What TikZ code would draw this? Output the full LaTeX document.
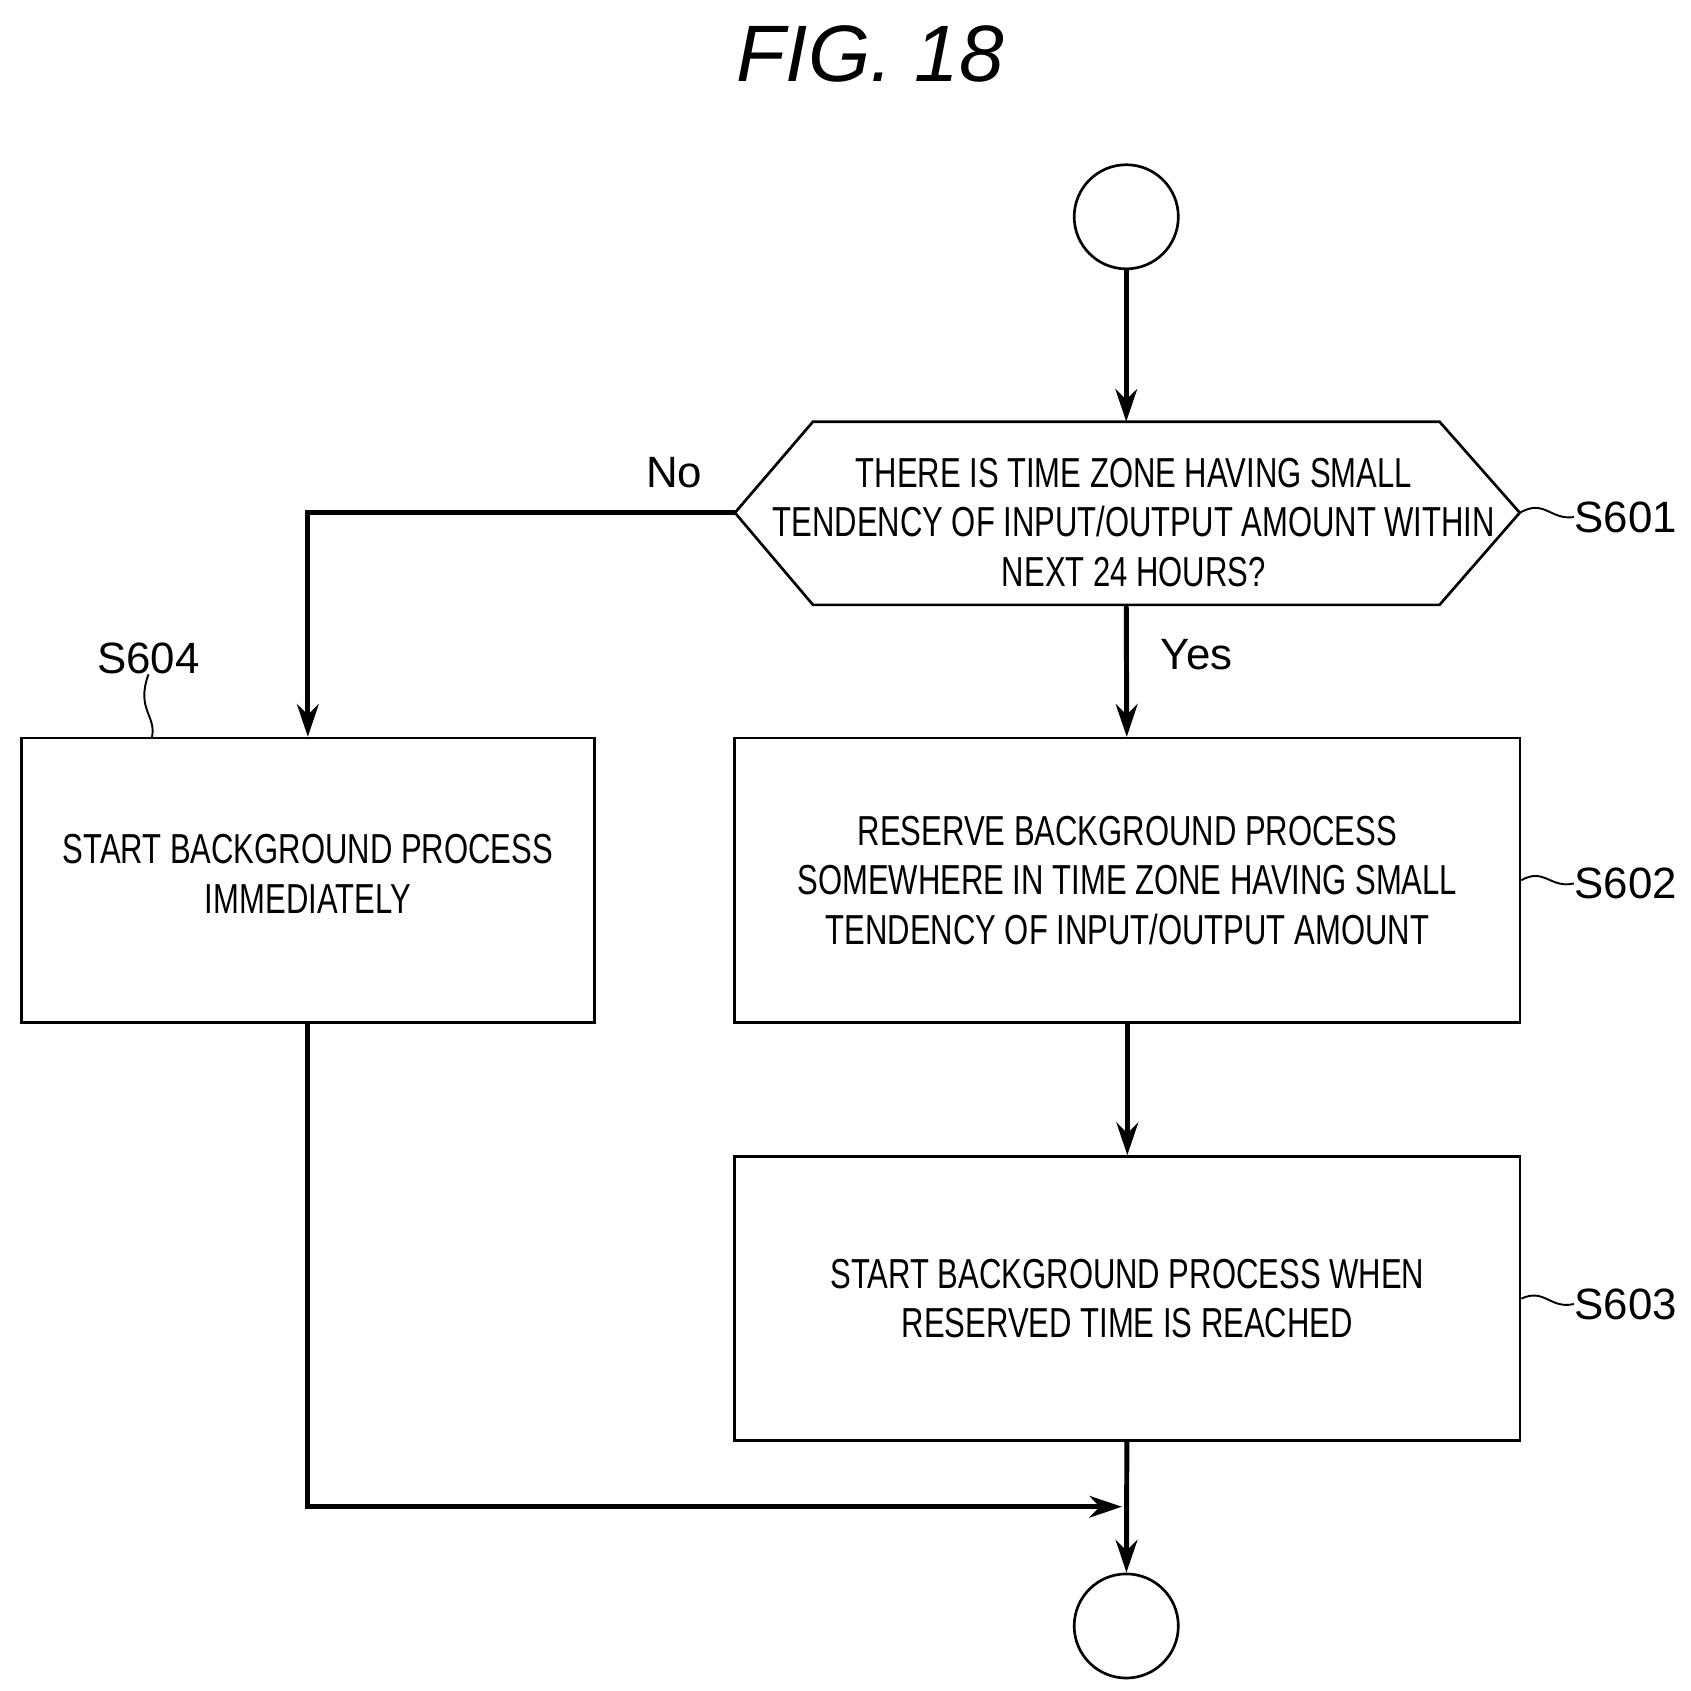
\documentclass[tikz,border=0pt]{standalone}
\usepackage{fontspec}
\setmainfont{Liberation Sans}
\newfontfamily\narrowfont[FakeStretch=0.74]{Liberation Sans}
\usetikzlibrary{positioning,calc,arrows.meta}
\tikzset{box/.style={draw,line width=0.7pt,minimum height=2.62cm,inner sep=0pt,align=center,font=\narrowfont\fontsize{11}{13}\selectfont},
  term/.style={draw,circle,line width=0.7pt,minimum size=0.96cm,inner sep=0pt},
  flow/.style={line width=1.3pt,-{Stealth[length=3mm,width=2mm]}},
  steplbl/.style={font=\fontsize{11.5}{12}\selectfont,inner sep=0pt},
  squig/.style={line width=0.5pt}}
\begin{document}
\begin{tikzpicture}[x=0.01cm,y=-0.01cm]
  \useasboundingbox (0,0) rectangle (1560,1560);
  % title
  \node (title) at (803,50) {\fontsize{21}{21}\selectfont\itshape FIG. 18};

  % terminals
  \node (start) [term] at (1039,200) {};
  \node (stop) [term] at (1039,1500) {};

  % decision
  \coordinate (qw) at (678,473);
  \coordinate (qe) at (1402,473);
  \draw[line width=0.7pt] (qw) -- (750,389) -- (1328,389) -- (qe) -- (1328,558) -- (750,558) -- cycle;
  \node (q) [align=center,font=\narrowfont\fontsize{11}{13}\selectfont] at (1046,482)
    {THERE IS TIME ZONE HAVING SMALL\\TENDENCY OF INPUT/OUTPUT AMOUNT WITHIN\\NEXT 24 HOURS?};
  \coordinate (qn) at (1039,389);
  \coordinate (qs) at (1039,558);

  % steps
  \node (s604) [box,minimum width=5.28cm] at (284,812) {};
  \node (t604) [align=center,font=\narrowfont\fontsize{11}{13}\selectfont] at (284,806) {START BACKGROUND PROCESS\\IMMEDIATELY};
  \node (s602) [box,minimum width=7.24cm] at (1040,812) {RESERVE BACKGROUND PROCESS\\SOMEWHERE IN TIME ZONE HAVING SMALL\\TENDENCY OF INPUT/OUTPUT AMOUNT};
  \node (s603) [box,minimum width=7.24cm] at (1040,1198) {START BACKGROUND PROCESS WHEN\\RESERVED TIME IS REACHED};

  % labels
  \node (l601) [steplbl,anchor=west] at (1452,477) {S601};
  \node (l602) [steplbl,anchor=west] at (1452,815) {S602};
  \node (l603) [steplbl,anchor=west] at (1452,1203) {S603};
  \node (l604) [steplbl] at (137,607) {S604};
  \draw[squig] (qe) .. controls (1425,460) and (1430,480) .. (l601.west);
  \draw[squig] (s602.east) .. controls (1425,800) and (1430,820) .. (l602.west);
  \draw[squig] (s603.east) .. controls (1425,1188) and (1430,1208) .. (l603.west);
  \draw[squig] (l604.south) .. controls (125,655) and (145,660) .. (140,681);
  \node (no) [steplbl] at (622,436) {No};
  \node (yes) [steplbl] at (1104,604) {Yes};

  % connectors
  \coordinate (join) at (1039,1390);
  \draw[flow] (start) -- (qn);
  \draw[flow] (qs) -- (s602);
  \draw[flow] (s602) -- (s603);
  \draw[flow] (qw) -| (s604.north);
  \draw[flow] (s604.south) |- ($(join)+(-4,0)$);
  \draw[flow] (s603) -- (stop);
\end{tikzpicture}
\end{document}
